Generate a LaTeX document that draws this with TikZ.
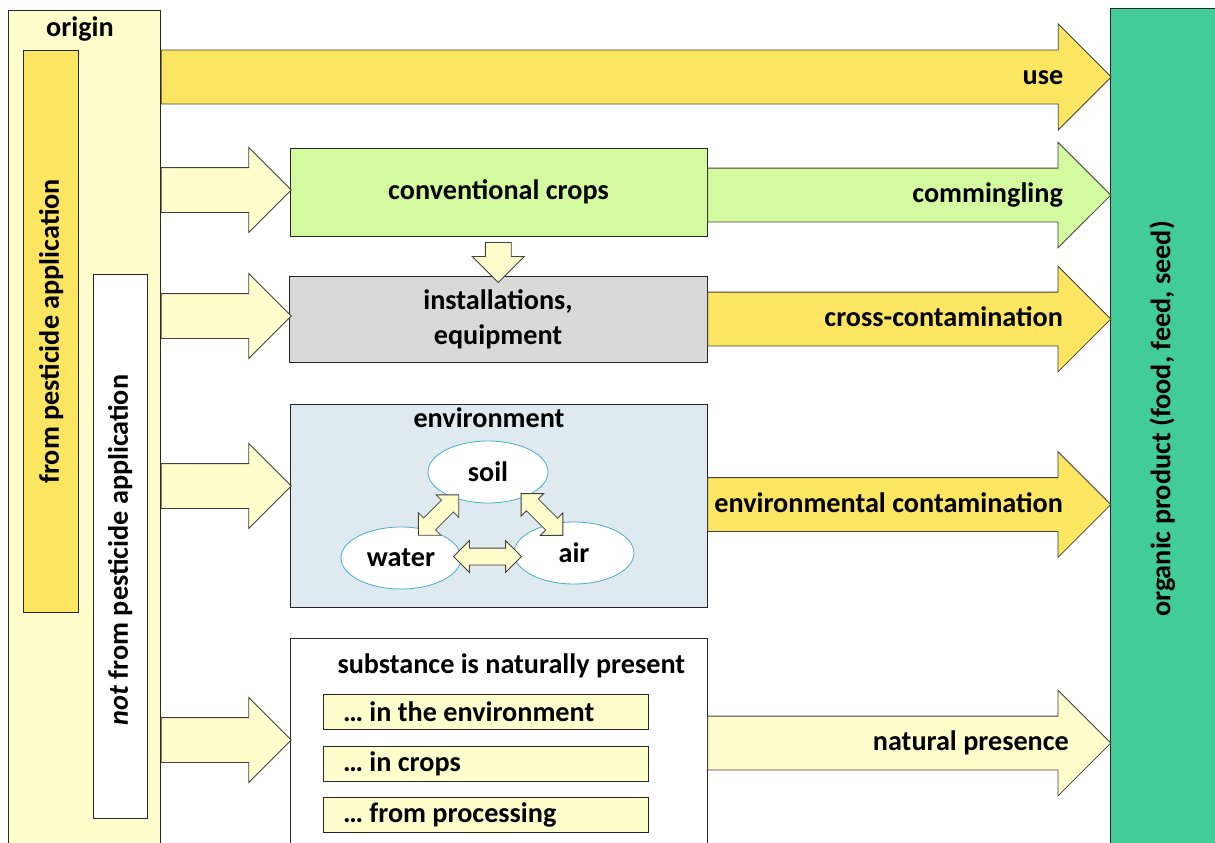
\documentclass[tikz,border=0pt]{standalone}
\usepackage{fontspec}
\setmainfont{Carlito}
\usetikzlibrary{positioning,calc,shapes.arrows,shapes.geometric}
\definecolor{paleyellow}{HTML}{FFFDCB}
\definecolor{gold}{HTML}{FBE561}
\definecolor{palegreen}{HTML}{D4FA9F}
\definecolor{envblue}{HTML}{DEEAF0}
\definecolor{organic}{HTML}{42CD98}
\definecolor{ringblue}{HTML}{4BACC6}
\definecolor{edge}{HTML}{404040}
\tikzstyle{box}=[rectangle,draw=black!85,line width=0.8pt,inner sep=0pt]
\tikzstyle{subbox}=[box,fill=paleyellow,minimum width=325pt,minimum height=35pt,
inner xsep=20pt,text width=285pt,align=flush left]
\tikzstyle{bigarrow}=[single arrow,draw=edge,line width=0.8pt,inner xsep=0pt,
inner ysep=26.5pt,single arrow head extend=26pt,minimum height=403pt,anchor=tail]
\tikzstyle{feedarrow}=[single arrow,draw=edge,fill=paleyellow,line width=0.8pt,
inner xsep=0pt,inner ysep=22pt,single arrow head extend=20pt,minimum height=130pt,anchor=tail]
\tikzstyle{swaparrow}=[double arrow,draw=edge,fill=paleyellow,line width=0.8pt,
inner xsep=0pt,inner ysep=8pt,double arrow head extend=7.5pt]
\tikzstyle{medium}=[ellipse,draw=ringblue,fill=white,line width=0.8pt,inner sep=0pt,
minimum width=120pt,minimum height=62pt]

\begin{document}
\begin{tikzpicture}[x=1pt,y=-1pt,font=\fontsize{28.2}{35}\selectfont\bfseries]
  \useasboundingbox (0,0) rectangle (1215,843);

  % origin column
  \node[box,fill=paleyellow,minimum width=152pt,minimum height=836pt,anchor=north west] (orig) at (8,10) {};
  \node[anchor=mid] (origlbl) at (80,34) {origin};
  \node[box,fill=gold,minimum width=55pt,minimum height=562pt,anchor=north west] (pest) at (23,50) {};
  \node[rotate=90,anchor=mid] (pestlbl) at ([xshift=5.5pt]pest.center) {from pesticide application};
  \node[box,fill=white,minimum width=54pt,minimum height=544pt,anchor=north west] (notpest) at (93,274) {};
  \node[rotate=90,anchor=mid] (notpestlbl) at (125.5,550) {\textit{not} from pesticide application};

  % target
  \node[box,fill=organic,minimum width=108pt,minimum height=838pt,anchor=north west] (prod) at (1110,8) {};
  \node[rotate=90,anchor=mid] (prodlbl) at (1168,419) {organic product (food, feed, seed)};

  % middle column
  \node[box,fill=palegreen,minimum width=417pt,minimum height=88pt] (crops) at (498.5,192) {conventional crops};
  \node[box,fill=black!15,minimum width=418pt,minimum height=86pt,align=center] (inst) at (498,319) {installations,\\equipment};
  \node[box,fill=envblue,minimum width=417pt,minimum height=203pt] (env) at (498.5,505.5) {};
  \node[anchor=mid] (envlbl) at (489,425.5) {environment};
  \node[box,fill=white,minimum width=417pt,minimum height=208pt] (subst) at (498.5,742) {};
  \node[anchor=mid west] (substlbl) at (334,671) {substance is naturally present};
  \node[subbox] (inenv) at (485.5,711.5) {… in the environment};
  \node[subbox] (incrops) at (485.5,763.5) {… in crops};
  \node[subbox] (inproc) at (485.5,814.5) {… from processing};

  \node[single arrow,rotate=-90,draw=edge,fill=paleyellow,line width=0.8pt,inner xsep=0pt,
    inner ysep=12.5pt,single arrow head extend=13pt,minimum height=40pt]
    (drop) at ($(crops.south)!0.5!(inst.north)$) {};

  % compartments
  \node[medium] (soil) at (488,472) {soil};
  \node[medium] (water) at (401,558) {water};
  \node[medium] (air) at (574,553) {air};
  \node[swaparrow,rotate=45,minimum height=57pt] (soilwater) at ($(soil)!0.5!(water)+(-6,0)$) {};
  \node[swaparrow,rotate=-45,minimum height=59pt] (soilair) at ($(soil)!0.5!(air)+(11,2)$) {};
  \node[swaparrow,minimum height=68pt] (waterair) at ($(water)!0.5!(air)+(0,1)$) {};

  % inputs
  \node[feedarrow] (tocrops) at (orig.east |- 0,190) {};
  \node[feedarrow] (toinst) at (orig.east |- 0,316) {};
  \node[feedarrow] (toenv) at (orig.east |- 0,486) {};
  \node[feedarrow] (tosubst) at (orig.east |- 0,740) {};

  % pathways
  \node[bigarrow,fill=gold,minimum height=950pt] (use) at (orig.east |- 0,77) {};
  \node[bigarrow,fill=palegreen] (comm) at (crops.east |- 0,195) {};
  \node[bigarrow,fill=gold] (cross) at (inst.east |- 0,319) {};
  \node[bigarrow,fill=gold] (envcont) at (env.east |- 0,504.5) {};
  \node[bigarrow,fill=paleyellow] (natural) at (subst.east |- 0,743) {};

  \node[anchor=mid east] (uselbl) at ([shift={(-45,5.5)}]use.tip) {use};
  \node[anchor=mid east] (commlbl) at ([shift={(-45,5.5)}]comm.tip) {commingling};
  \node[anchor=mid east] (crosslbl) at ([shift={(-45,5.5)}]cross.tip) {cross-contamination};
  \node[anchor=mid east] (envcontlbl) at ([shift={(-45,5.5)}]envcont.tip) {environmental contamination};
  \node[anchor=mid east] (naturallbl) at ([shift={(-39,5.5)}]natural.tip) {natural presence};
\end{tikzpicture}
\end{document}
